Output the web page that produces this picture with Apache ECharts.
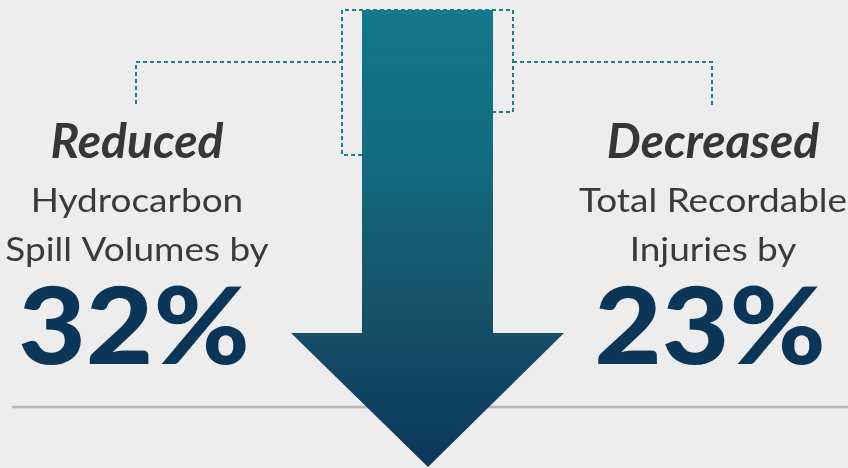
<!DOCTYPE html>
<html>
<head>
<meta charset="utf-8">
<script src="https://cdn.jsdelivr.net/npm/echarts@6/dist/echarts.min.js"></script>
<style>
  html, body { margin: 0; padding: 0; background: #ececec; }
  #main { width: 848px; height: 468px; }
</style>
</head>
<body>
<div id="main"></div>
<script>
// figures shown on each side of the arrow
var verbs = ['Reduced', 'Decreased']
var descLines = [
  ['Hydrocarbon', 'Spill Volumes by'],
  ['Total Recordable', 'Injuries by']
]
var percents = [32, 23]

var chart = echarts.init(document.getElementById('main'))

var dash = { stroke: '#1b7e8c', lineWidth: 2, lineDash: [4, 3] }
var textFont = 'Lato, "Open Sans", sans-serif'
var centers = [137, 713]

var elements = [
  // background
  { type: 'rect', shape: { x: 0, y: 0, width: 848, height: 468 }, style: { fill: '#ededed' }, z: 0 },
  // baseline rule
  { type: 'line', shape: { x1: 12, y1: 407, x2: 848, y2: 407 }, style: { stroke: '#b7b7b9', lineWidth: 2.5 }, z: 1 },
  // dashed bracket lines
  { type: 'polyline', shape: { points: [[136, 104], [136, 62], [342, 62]] }, style: dash, z: 2 },
  { type: 'polyline', shape: { points: [[362, 155], [342, 155], [342, 10], [513, 10], [513, 112], [493, 112]] }, style: dash, z: 2 },
  { type: 'polyline', shape: { points: [[513, 62], [712, 62], [712, 105]] }, style: dash, z: 2 },
  // arrow
  {
    type: 'polygon',
    shape: { points: [[362, 10], [493, 10], [493, 333], [564, 333], [428, 467], [291, 333], [362, 333]] },
    style: {
      fill: new echarts.graphic.LinearGradient(0, 0, 0, 1, [
        { offset: 0, color: '#12798a' },
        { offset: 0.35, color: '#13697e' },
        { offset: 0.65, color: '#165269' },
        { offset: 1, color: '#0b375a' }
      ])
    },
    z: 3
  }
]

centers.forEach(function (cx, i) {
  elements.push({
    type: 'text', x: cx, y: 143, z: 5,
    style: {
      text: verbs[i], align: 'center', verticalAlign: 'middle',
      font: 'italic bold 48px ' + textFont, fill: '#363636'
    }
  })
  descLines[i].forEach(function (line, j) {
    elements.push({
      type: 'text', x: cx, y: 201 + j * 49, z: 5, scaleX: 1.12,
      style: {
        text: line, align: 'center', verticalAlign: 'middle',
        font: '400 33px ' + textFont, fill: '#3a3a3a'
      }
    })
  })
  elements.push({
    type: 'text', x: cx - 3, y: 330, z: 5, scaleX: 1.1,
    style: {
      text: percents[i] + '%', align: 'center', verticalAlign: 'middle',
      font: '900 106px ' + textFont, fill: '#0c3658'
    }
  })
})

chart.setOption({
  backgroundColor: '#ededed',
  animation: false,
  graphic: { elements: elements }
})
</script>
</body>
</html>
